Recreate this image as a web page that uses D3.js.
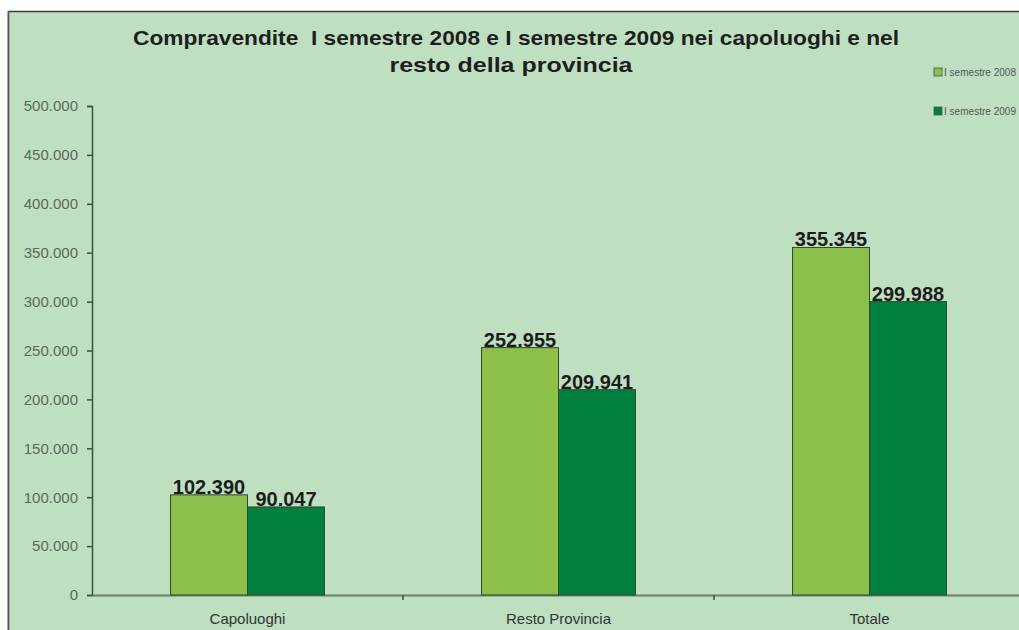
<!DOCTYPE html>
<html>
<head>
<meta charset="utf-8">
<script src="https://cdn.jsdelivr.net/npm/d3@7"></script>
<style>
  html, body { margin: 0; padding: 0; background: #ffffff; }
  svg { display: block; font-family: "Liberation Sans", Arial, sans-serif; }
</style>
</head>
<body>
<svg width="1019" height="630"></svg>
<script>
// Data
const categories = ["Capoluoghi", "Resto Provincia", "Totale"];
const series = ["I semestre 2008", "I semestre 2009"];
const values2008 = [102390, 252955, 355345];
const values2009 = [90047, 209941, 299988];
const yTicks = [0, 50000, 100000, 150000, 200000, 250000, 300000, 350000, 400000, 450000, 500000];
const colors = ["#8cc04b", "#007f3e"];

const svg = d3.select("svg");
const W = 1019, H = 630;

// italian number format: 355.345
const it = d3.formatLocale({decimal: ",", thousands: ".", grouping: [3], currency: ["€", ""]});
const fmt = it.format(",d");

// background and frame
svg.append("rect").attr("x", 10).attr("y", 12).attr("width", W - 10).attr("height", H - 12)
   .attr("fill", "#bfe0c0");
svg.append("line").attr("x1", 8).attr("x2", W).attr("y1", 11.5).attr("y2", 11.5)
   .attr("stroke", "#3a3a3a").attr("stroke-width", 1.5);
svg.append("line").attr("x1", 8.5).attr("x2", 8.5).attr("y1", 11).attr("y2", H)
   .attr("stroke", "#555").attr("stroke-width", 2);

// scales
const x0 = d3.scaleBand().domain(categories).range([92, 1025]).padding(0);
const bw = x0.bandwidth();
const x1 = d3.scaleBand().domain(series).range([bw * 0.2525, bw * 0.7475]).padding(0);
const y = d3.scaleLinear().domain([0, 500000]).range([595, 106]);

// title
const title = svg.append("text").attr("text-anchor", "middle")
   .attr("font-weight", "bold").attr("font-size", 21).attr("fill", "#1e1e1e");
title.append("tspan").attr("x", 516).attr("y", 45)
   .attr("textLength", 766).attr("lengthAdjust", "spacingAndGlyphs")
   .text("Compravendite \u00A0I semestre 2008 e I semestre 2009 nei capoluoghi e nel");
title.append("tspan").attr("x", 511).attr("y", 72)
   .attr("textLength", 243).attr("lengthAdjust", "spacingAndGlyphs")
   .text("resto della provincia");

// y axis
const yAxis = svg.append("g").attr("transform", "translate(92,0)")
   .call(d3.axisLeft(y).tickValues(yTicks).tickFormat(fmt).tickSize(5).tickPadding(9));
yAxis.select(".domain").attr("stroke", "#3d4f3d").attr("stroke-width", 1.5);
yAxis.selectAll(".tick line").attr("stroke", "#3d4f3d").attr("stroke-width", 1.5);
yAxis.selectAll(".tick text").attr("font-size", 15).attr("fill", "#5a6a5a")
   .attr("font-family", "Liberation Sans, Arial, sans-serif");

// x axis
const xAxis = svg.append("g").attr("transform", "translate(0,595)")
   .call(d3.axisBottom(x0).tickSize(0).tickPadding(18));
xAxis.select(".domain").attr("stroke", "#6d7f6d").attr("stroke-width", 2);
xAxis.selectAll(".tick text").attr("font-size", 15).attr("fill", "#333")
   .attr("font-family", "Liberation Sans, Arial, sans-serif");
// category divider ticks
svg.selectAll(".divtick").data(categories.slice(1)).enter().append("line")
   .attr("class", "divtick")
   .attr("x1", d => x0(d)).attr("x2", d => x0(d))
   .attr("y1", 595).attr("y2", 600)
   .attr("stroke", "#3d4f3d").attr("stroke-width", 1.5);

// bars
const rows = categories.map((c, i) => ({cat: c, vals: [values2008[i], values2009[i]]}));
const groups = svg.selectAll(".grp").data(rows).enter().append("g")
   .attr("class", "grp").attr("transform", d => `translate(${x0(d.cat)},0)`);

groups.selectAll("rect").data(d => d.vals.map((v, j) => ({s: series[j], v: v, j: j})))
   .enter().append("rect")
   .attr("x", d => x1(d.s)).attr("width", x1.bandwidth())
   .attr("y", d => y(d.v)).attr("height", d => y(0) - y(d.v))
   .attr("fill", d => colors[d.j]).attr("stroke", "#2e4a2e").attr("stroke-width", 1);

groups.selectAll(".lbl").data(d => d.vals.map((v, j) => ({s: series[j], v: v, j: j})))
   .enter().append("text").attr("class", "lbl")
   .attr("x", d => x1(d.s) + x1.bandwidth() / 2).attr("y", d => y(d.v) - 1)
   .attr("text-anchor", "middle").attr("font-weight", "bold").attr("font-size", 20)
   .attr("fill", "#1c1c1c").text(d => fmt(d.v));

// legend
const legend = svg.selectAll(".leg").data(series).enter().append("g")
   .attr("class", "leg").attr("transform", (d, i) => `translate(934,${72 + i * 39})`);
legend.append("rect").attr("x", 0).attr("y", -4).attr("width", 8).attr("height", 8)
   .attr("fill", (d, i) => colors[i]).attr("stroke", "#3d5a3d").attr("stroke-width", 0.8);
legend.append("text").attr("x", 10).attr("y", 0).attr("dy", "0.35em")
   .attr("font-size", 10.5).attr("fill", "#555")
   .attr("textLength", 72).attr("lengthAdjust", "spacingAndGlyphs").text(d => d);
</script>
</body>
</html>
